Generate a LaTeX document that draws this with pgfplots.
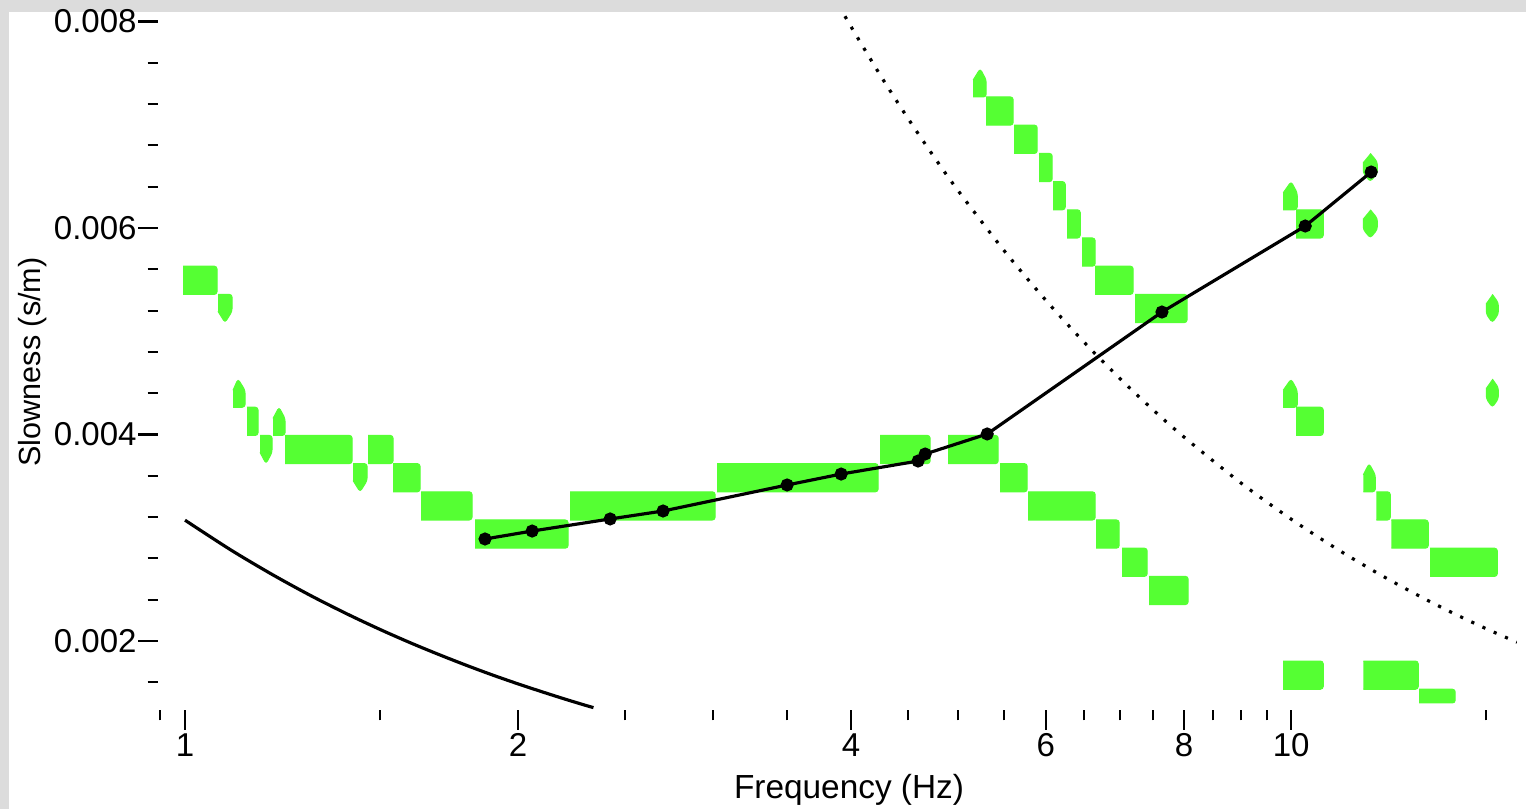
\documentclass[border=0pt]{standalone}
\usepackage{pgfplots}
\pgfplotsset{compat=1.18}
\usepackage{fontspec}
\setmainfont{Liberation Sans}
\definecolor{frame}{RGB}{220,220,220}
\definecolor{gr}{RGB}{85,255,51}
\begin{document}
\begin{tikzpicture}
\useasboundingbox (0,0) rectangle (15.26,8.09);
\fill[frame] (0,0) rectangle (15.26,8.09);
\fill[white] (0.09,0) rectangle (15.26,7.97);
\begin{axis}[
  at={(1.58cm,0.99cm)}, anchor=south west,
  width=13.59cm, height=6.98cm, scale only axis,
  xmode=log, xmin=0.9453, xmax=16, ymin=0.001332, ymax=0.008092,
  axis line style={draw=none},
  tick align=outside, tick pos=left,
  major tick length=0.2cm, minor tick length=0.105cm,
  every tick/.style={black, line width=0.6pt},
  xtick={1,2,4,6,8,10}, xticklabels={1,2,4,6,8,10},
  minor xtick={0.95,1.5,2.5,3,3.5,4.5,5,5.5,6.5,7,7.5,8.5,9,9.5,15},
  ytick={0.002,0.004,0.006,0.008}, yticklabels={0.002,0.004,0.006,0.008},
  minor ytick={0.0016,0.0024,0.0028,0.0032,0.0036,0.0044,0.0048,0.0052,0.0056,0.0064,0.0068,0.0072,0.0076},
  scaled y ticks=false,
  ticklabel style={font=\fontsize{9.4}{10}\selectfont},
  xticklabel style={yshift=0.09cm},
  yticklabel style={xshift=0.11cm},
  xlabel={Frequency (Hz)}, ylabel={Slowness (s/m)},
  xlabel style={font=\fontsize{9.5}{11}\selectfont, at={(axis description cs:0.5085,0)}, anchor=center, yshift=-0.80cm},
  ylabel style={font=\fontsize{8.7}{10}\selectfont, at={(axis description cs:-0.092,0.4986)}, anchor=center},
  grn/.style={fill=gr, draw=gr, line width=0.3pt, rounded corners=0.8pt},
]
% green blobs
\addplot[grn] coordinates {(0.99585,0.005357)(1.06889,0.005357)(1.06889,0.005630)(0.99585,0.005630)};
\addplot[grn] coordinates {(1.07112,0.005357)(1.10281,0.005357)(1.10281,0.005193)(1.08687,0.005084)(1.07112,0.005193)};
\addplot[grn] coordinates {(1.10511,0.004264)(1.13304,0.004264)(1.13304,0.004428)(1.11665,0.004537)(1.10511,0.004428)};
\addplot[grn] coordinates {(1.13777,0.003991)(1.16412,0.003991)(1.16412,0.004264)(1.13777,0.004264)};
\addplot[grn] coordinates {(1.16897,0.003991)(1.19854,0.003991)(1.19854,0.003827)(1.18367,0.003718)(1.16897,0.003827)};
\addplot[grn] coordinates {(1.20103,0.003991)(1.23138,0.003991)(1.23138,0.004155)(1.21611,0.004264)(1.20103,0.004155)};
\addplot[grn] coordinates {(1.23138,0.003718)(1.41595,0.003718)(1.41595,0.003991)(1.23138,0.003991)};
\addplot[grn] coordinates {(1.41890,0.003718)(1.46081,0.003718)(1.46081,0.003554)(1.43967,0.003445)(1.41890,0.003554)};
\addplot[grn] coordinates {(1.46386,0.003718)(1.54194,0.003718)(1.54194,0.003991)(1.46386,0.003991)};
\addplot[grn] coordinates {(1.54194,0.003445)(1.63113,0.003445)(1.63113,0.003718)(1.54194,0.003718)};
\addplot[grn] coordinates {(1.63453,0.003172)(1.81760,0.003172)(1.81760,0.003445)(1.63453,0.003445)};
\addplot[grn] coordinates {(1.82898,0.002899)(2.21962,0.002899)(2.21962,0.003172)(1.82898,0.003172)};
\addplot[grn] coordinates {(2.22887,0.003172)(3.01445,0.003172)(3.01445,0.003445)(2.22887,0.003445)};
\addplot[grn] coordinates {(3.02703,0.003445)(4.23246,0.003445)(4.23246,0.003718)(3.02703,0.003718)};
\addplot[grn] coordinates {(4.25012,0.003718)(4.71620,0.003718)(4.71620,0.003991)(4.25012,0.003991)};
\addplot[grn] coordinates {(4.89632,0.003718)(5.43393,0.003718)(5.43393,0.003991)(4.89632,0.003991)};
\addplot[grn] coordinates {(5.45661,0.003445)(5.77229,0.003445)(5.77229,0.003718)(5.45661,0.003718)};
\addplot[grn] coordinates {(5.78432,0.003172)(6.64966,0.003172)(6.64966,0.003445)(5.78432,0.003445)};
\addplot[grn] coordinates {(6.66351,0.002899)(6.99044,0.002899)(6.99044,0.003172)(6.66351,0.003172)};
\addplot[grn] coordinates {(7.03425,0.002626)(7.41000,0.002626)(7.41000,0.002899)(7.03425,0.002899)};
\addplot[grn] coordinates {(7.44092,0.002353)(8.06869,0.002353)(8.06869,0.002626)(7.44092,0.002626)};
\addplot[grn] coordinates {(5.15826,0.007269)(5.29978,0.007269)(5.29978,0.007433)(5.23402,0.007542)(5.15826,0.007433)};
\addplot[grn] coordinates {(5.29978,0.006996)(5.60615,0.006996)(5.60615,0.007269)(5.29978,0.007269)};
\addplot[grn] coordinates {(5.61783,0.006722)(5.89378,0.006722)(5.89378,0.006996)(5.61783,0.006996)};
\addplot[grn] coordinates {(5.91836,0.006449)(6.08073,0.006449)(6.08073,0.006722)(5.91836,0.006722)};
\addplot[grn] coordinates {(6.09340,0.006176)(6.24754,0.006176)(6.24754,0.006449)(6.09340,0.006449)};
\addplot[grn] coordinates {(6.27360,0.005903)(6.44574,0.005903)(6.44574,0.006176)(6.27360,0.006176)};
\addplot[grn] coordinates {(6.47264,0.005630)(6.64966,0.005630)(6.64966,0.005903)(6.47264,0.005903)};
\addplot[grn] coordinates {(6.64966,0.005357)(7.19686,0.005357)(7.19686,0.005630)(6.64966,0.005630)};
\addplot[grn] coordinates {(7.22686,0.005084)(8.05190,0.005084)(8.05190,0.005357)(7.22686,0.005357)};
\addplot[grn] coordinates {(9.83484,0.006176)(10.12570,0.006176)(10.12570,0.006340)(9.99792,0.006449)(9.83484,0.006340)};
\addplot[grn] coordinates {(10.10464,0.005903)(10.68889,0.005903)(10.68889,0.006176)(10.10464,0.006176)};
\addplot[grn] coordinates {(11.78933,0.006722)(11.96234,0.006640)(11.96234,0.006531)(11.78933,0.006449)(11.61880,0.006531)(11.61880,0.006640)};
\addplot[grn] coordinates {(11.78933,0.006176)(11.96234,0.006094)(11.96234,0.005985)(11.78933,0.005903)(11.61880,0.005985)(11.61880,0.006094)};
\addplot[grn] coordinates {(15.19934,0.005357)(15.39038,0.005275)(15.39038,0.005166)(15.19934,0.005084)(15.01069,0.005166)(15.01069,0.005275)};
\addplot[grn] coordinates {(15.19934,0.004537)(15.39038,0.004455)(15.39038,0.004346)(15.19934,0.004264)(15.01069,0.004346)(15.01069,0.004455)};
\addplot[grn] coordinates {(9.83484,0.004264)(10.12570,0.004264)(10.12570,0.004428)(9.99792,0.004537)(9.83484,0.004428)};
\addplot[grn] coordinates {(10.10464,0.003991)(10.68889,0.003991)(10.68889,0.004264)(10.10464,0.004264)};
\addplot[grn] coordinates {(11.61880,0.003445)(11.91260,0.003445)(11.91260,0.003609)(11.76000,0.003718)(11.61880,0.003609)};
\addplot[grn] coordinates {(11.93745,0.003172)(12.28979,0.003172)(12.28979,0.003445)(11.93745,0.003445)};
\addplot[grn] coordinates {(12.31540,0.002899)(13.30058,0.002899)(13.30058,0.003172)(12.31540,0.003172)};
\addplot[grn] coordinates {(13.35607,0.002626)(15.35837,0.002626)(15.35837,0.002899)(13.35607,0.002899)};
\addplot[grn] coordinates {(9.83484,0.001533)(10.68889,0.001533)(10.68889,0.001806)(9.83484,0.001806)};
\addplot[grn] coordinates {(11.61880,0.001533)(13.02650,0.001533)(13.02650,0.001806)(11.61880,0.001806)};
\addplot[grn] coordinates {(13.05364,0.001400)(14.06902,0.001400)(14.06902,0.001533)(13.05364,0.001533)};
% theoretical curves
\addplot[black, line width=0.9pt, smooth] coordinates {
(1.0,0.003170)(1.1,0.002882)(1.2,0.002642)(1.3,0.002438)(1.4,0.002264)(1.5,0.002113)(1.6,0.001981)(1.7,0.001865)(1.8,0.001761)(1.9,0.001668)(2.0,0.001585)(2.1,0.001510)(2.2,0.001441)(2.3,0.001378)(2.34,0.001355)};
\addplot[black, line width=0.9pt, dash pattern=on 0.9pt off 2.6pt, smooth] coordinates {
(3.9,0.008154)(4.0,0.007950)(4.25,0.007482)(4.5,0.007067)(4.75,0.006695)(5.0,0.006360)(5.5,0.005782)(6.0,0.005300)(6.5,0.004892)(7.0,0.004543)(7.5,0.004240)(8.0,0.003975)(9.0,0.003533)(10,0.003180)(11,0.002891)(12,0.002650)(13,0.002446)(14,0.002271)(15,0.002120)(16,0.001988)};
% picked dispersion curve
\addplot[black, line width=0.9pt, mark=*, mark size=1.4pt] coordinates {
(1.8673,0.002988)(2.0597,0.003065)(2.4228,0.003182)(2.7048,0.003259)(3.5020,0.003511)(3.9193,0.003617)(4.5993,0.003743)(4.6676,0.003811)(5.3113,0.004005)(7.6423,0.005186)(10.296,0.006019)(11.811,0.006542)};
\end{axis}
\end{tikzpicture}
\end{document}
